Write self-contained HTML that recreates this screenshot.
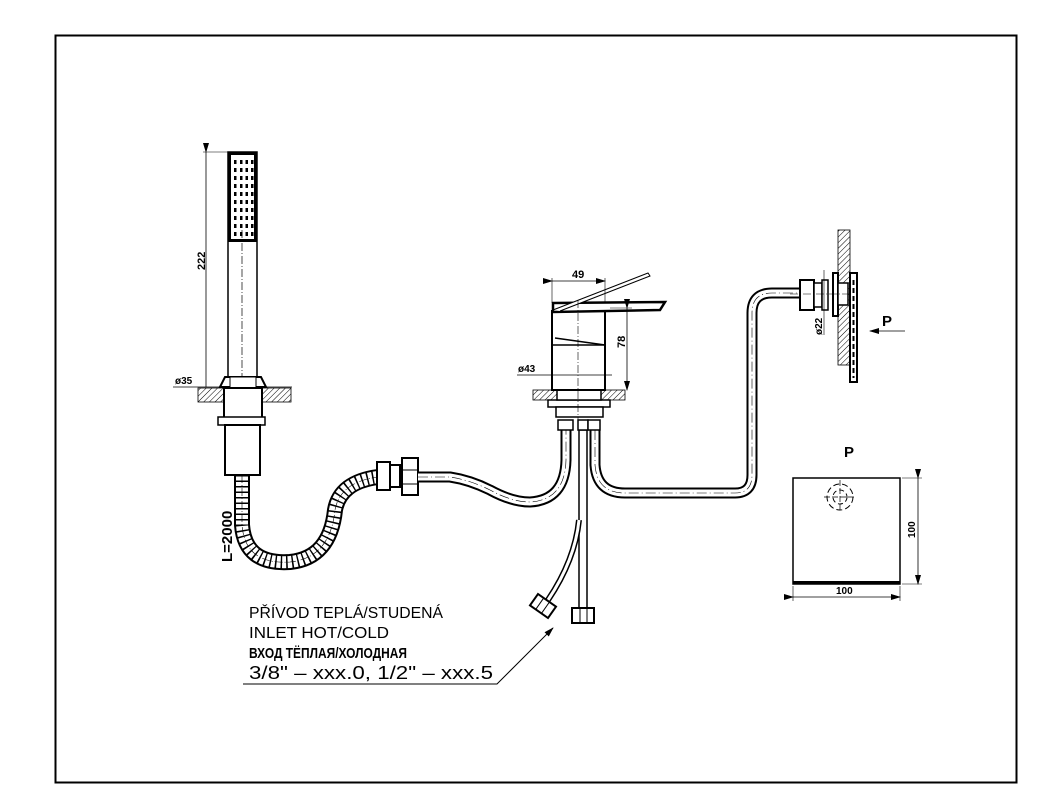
<!DOCTYPE html>
<html><head><meta charset="utf-8"><style>
html,body{margin:0;padding:0;background:#fff;}
svg{display:block;}
text{font-family:"Liberation Sans","DejaVu Sans",sans-serif;fill:#000;}
</style></head><body>
<svg width="1053" height="788" viewBox="0 0 1053 788" xmlns="http://www.w3.org/2000/svg">
<defs>
<pattern id="h" width="4" height="4" patternUnits="userSpaceOnUse" patternTransform="rotate(45)">
<line x1="0" y1="0" x2="0" y2="4" stroke="#000" stroke-width="1"/></pattern>
<marker id="a" markerWidth="10" markerHeight="6" refX="9" refY="3" orient="auto" markerUnits="userSpaceOnUse"><path d="M0,0 L10,3 L0,6 z" fill="#000"/></marker>
<g id="row" fill="#000"><rect x="234" y="0" width="2.5" height="4"/><rect x="240" y="0" width="2.5" height="4"/><rect x="245.5" y="0" width="2.5" height="4"/><rect x="251" y="0" width="2.5" height="4"/></g>
</defs>
<rect x="55.5" y="35.5" width="961" height="747" fill="none" stroke="#000" stroke-width="2"/>

<rect x="228" y="152" width="29" height="225" fill="#fff" stroke="#000" stroke-width="1.5"/>
<rect x="229.5" y="153.5" width="26" height="87" fill="none" stroke="#000" stroke-width="3"/>
<use href="#row" y="160"/><use href="#row" y="168"/><use href="#row" y="176"/><use href="#row" y="184"/><use href="#row" y="192"/><use href="#row" y="200"/><use href="#row" y="208"/><use href="#row" y="216"/><use href="#row" y="224"/><use href="#row" y="232"/>
<line x1="242" y1="230" x2="242" y2="480" stroke="#000" stroke-width="0.7" stroke-dasharray="8,2,1,2"/>
<line x1="206" y1="152" x2="206" y2="387" stroke="#000" stroke-width="0.8" marker-start="url(#a)"/>
<line x1="203" y1="152" x2="228" y2="152" stroke="#000" stroke-width="0.6"/>
<text font-size="11" font-weight="bold" transform="translate(205,270) rotate(-90)">222</text>
<text x="175" y="384" font-size="10" font-weight="bold">ø35</text>
<line x1="173" y1="387" x2="292" y2="387" stroke="#000" stroke-width="0.8"/>
<rect x="198" y="388" width="93" height="14" fill="url(#h)" stroke="#000" stroke-width="0.8"/>
<path d="M220,387 L225,377 L261,377 L266,387 Z" fill="#fff" stroke="#000" stroke-width="2"/>
<rect x="230" y="377" width="26" height="11" fill="#fff" stroke="#000" stroke-width="1"/>
<rect x="224" y="388" width="38" height="30" fill="#fff" stroke="#000" stroke-width="2"/>
<rect x="218" y="417" width="47" height="8" fill="#fff" stroke="#000" stroke-width="1.5"/>
<rect x="225" y="425" width="35" height="50" fill="#fff" stroke="#000" stroke-width="2"/>

<path id="hose" d="M242,475 L242,525 Q245,565 290,562 Q330,558 335,510 Q340,482 378,477" fill="none"/>
<use href="#hose" stroke="#000" stroke-width="16"/>
<use href="#hose" stroke="#fff" stroke-width="12"/>
<use href="#hose" stroke="#000" stroke-width="14" stroke-dasharray="1.5,4"/>
<use href="#hose" stroke="#000" stroke-width="0.6" stroke-dasharray="8,2,1,2"/>
<text font-size="15" font-weight="bold" transform="translate(232,562) rotate(-90)">L=2000</text>
<rect x="377" y="462" width="13" height="28" fill="#fff" stroke="#000" stroke-width="2"/>
<rect x="390" y="465" width="10" height="22" fill="#fff" stroke="#000" stroke-width="2"/>
<rect x="402" y="458" width="16" height="37" fill="#fff" stroke="#000" stroke-width="2"/>
<line x1="403" y1="470" x2="417" y2="470" stroke="#000"/><line x1="403" y1="484" x2="417" y2="484" stroke="#000"/>

<g fill="none">
<path id="p1" d="M418,477 L450,477 Q470,480 490,490 Q512,502 530,502 Q565,500 566,460 L566,430"/>
<path id="p2" d="M595,430 L595,465 Q597,493 625,493 L735,493 Q752,493 752,475 L752,313 Q752,293 772,293 L801,293"/>
</g>
<g fill="none" stroke="#000" stroke-width="11"><use href="#p1"/><use href="#p2"/></g>
<g fill="none" stroke="#fff" stroke-width="7"><use href="#p1"/><use href="#p2"/></g>
<g fill="none" stroke="#000" stroke-width="0.6" stroke-dasharray="10,3,1,3"><use href="#p1"/><use href="#p2"/></g>
<rect x="579" y="430" width="8" height="180" fill="#fff" stroke="#000" stroke-width="1.5"/>
<rect x="572" y="608" width="22" height="15" fill="#fff" stroke="#000" stroke-width="2"/>
<line x1="580" y1="608" x2="580" y2="623" stroke="#000"/><line x1="587" y1="608" x2="587" y2="623" stroke="#000"/>
<path d="M579,520 Q575,560 548,600" fill="none" stroke="#000" stroke-width="6"/>
<path d="M579,520 Q575,560 548,600" fill="none" stroke="#fff" stroke-width="3"/>
<g transform="translate(543,606) rotate(35)"><rect x="-11" y="-7" width="22" height="14" fill="#fff" stroke="#000" stroke-width="2"/><line x1="-4" y1="-7" x2="-4" y2="7" stroke="#000"/><line x1="3" y1="-7" x2="3" y2="7" stroke="#000"/></g>
<rect x="558" y="420" width="15" height="10" fill="#fff" stroke="#000" stroke-width="1.5"/>
<rect x="578" y="420" width="10" height="10" fill="#fff" stroke="#000" stroke-width="1.5"/>
<rect x="588" y="420" width="12" height="10" fill="#fff" stroke="#000" stroke-width="1.5"/>

<rect x="533" y="390" width="92" height="10" fill="url(#h)" stroke="#000" stroke-width="0.8"/>
<rect x="548" y="400" width="62" height="7" fill="#fff" stroke="#000" stroke-width="1.5"/>
<rect x="556" y="407" width="47" height="10" fill="#fff" stroke="#000" stroke-width="1.5"/>
<rect x="557" y="390" width="44" height="10" fill="#fff" stroke="#000" stroke-width="1.5"/>
<path d="M552,310 L552,390 L605,390 L605,310" fill="#fff" stroke="#000" stroke-width="2"/>
<line x1="552" y1="345" x2="605" y2="345" stroke="#000" stroke-width="1.5"/>
<path d="M555,338 L605,345" stroke="#000" stroke-width="1.5"/>
<path d="M553,303 L665,302 L660,310 L553,312 Z" fill="#fff" stroke="#000" stroke-width="2.5"/>
<path d="M553,310 L648,273 L650,276 L560,311" fill="#fff" stroke="#000" stroke-width="1"/>
<line x1="578" y1="300" x2="578" y2="420" stroke="#000" stroke-width="0.6" stroke-dasharray="8,2,1,2"/>
<line x1="552" y1="281" x2="605" y2="281" stroke="#000" stroke-width="0.8" marker-start="url(#a)" marker-end="url(#a)"/>
<line x1="552" y1="278" x2="552" y2="303" stroke="#000" stroke-width="0.6"/><line x1="605" y1="278" x2="605" y2="303" stroke="#000" stroke-width="0.6"/>
<text x="572" y="278" font-size="11" font-weight="bold">49</text>
<line x1="627" y1="308" x2="627" y2="390" stroke="#000" stroke-width="0.8" marker-start="url(#a)" marker-end="url(#a)"/>
<line x1="610" y1="308" x2="632" y2="308" stroke="#000" stroke-width="0.6"/>
<text font-size="11" font-weight="bold" transform="translate(625,348) rotate(-90)">78</text>
<line x1="517" y1="375" x2="612" y2="375" stroke="#000" stroke-width="0.8"/>
<text x="518" y="372" font-size="10" font-weight="bold">ø43</text>

<rect x="838" y="230" width="12" height="135" fill="url(#h)" stroke="#000" stroke-width="0.8"/>
<rect x="850" y="273" width="7" height="109" fill="#fff" stroke="#000" stroke-width="2"/>
<line x1="853.5" y1="280" x2="853.5" y2="378" stroke="#000" stroke-width="2" stroke-dasharray="5,3"/>
<rect x="800" y="280" width="14" height="30" fill="#fff" stroke="#000" stroke-width="2"/>
<rect x="814" y="283" width="8" height="24" fill="#fff" stroke="#000" stroke-width="1.5"/>
<rect x="822" y="280" width="6" height="30" fill="#fff" stroke="#000" stroke-width="1.5"/>
<rect x="833" y="273" width="5" height="43" fill="#fff" stroke="#000" stroke-width="2"/>
<rect x="838" y="283" width="10" height="22" fill="#fff" stroke="#000" stroke-width="1.5"/>
<line x1="790" y1="294" x2="850" y2="294" stroke="#000" stroke-width="0.6" stroke-dasharray="8,2,1,2"/>
<line x1="824" y1="270" x2="824" y2="335" stroke="#000" stroke-width="0.6"/>
<text font-size="10" font-weight="bold" transform="translate(822,335) rotate(-90)">ø22</text>
<line x1="905" y1="331" x2="870" y2="331" stroke="#000" stroke-width="0.8" marker-end="url(#a)"/>
<text x="882" y="326" font-size="15" font-weight="bold">P</text>

<text x="844" y="457" font-size="15" font-weight="bold">P</text>
<rect x="793" y="478" width="107" height="106" fill="#fff" stroke="#000" stroke-width="1.5"/>
<rect x="793" y="581" width="107" height="3" fill="#000"/>
<circle cx="840" cy="497" r="13" fill="none" stroke="#000" stroke-width="1" stroke-dasharray="6,3"/>
<circle cx="840" cy="497" r="7" fill="none" stroke="#000" stroke-width="1" stroke-dasharray="5,3"/>
<line x1="840" y1="480" x2="840" y2="512" stroke="#000" stroke-width="0.7" stroke-dasharray="6,2"/>
<line x1="824" y1="497" x2="856" y2="497" stroke="#000" stroke-width="0.7" stroke-dasharray="6,2"/>
<line x1="918" y1="478" x2="918" y2="584" stroke="#000" stroke-width="0.8" marker-start="url(#a)" marker-end="url(#a)"/>
<line x1="902" y1="478" x2="922" y2="478" stroke="#000" stroke-width="0.6"/><line x1="902" y1="584" x2="922" y2="584" stroke="#000" stroke-width="0.6"/>
<text font-size="10" font-weight="bold" transform="translate(915,538) rotate(-90)">100</text>
<line x1="793" y1="597" x2="900" y2="597" stroke="#000" stroke-width="0.8" marker-start="url(#a)" marker-end="url(#a)"/>
<line x1="793" y1="586" x2="793" y2="601" stroke="#000" stroke-width="0.6"/><line x1="900" y1="586" x2="900" y2="601" stroke="#000" stroke-width="0.6"/>
<text x="836" y="594" font-size="10" font-weight="bold">100</text>

<g font-size="16">
<text x="249" y="618" textLength="194" lengthAdjust="spacingAndGlyphs">PŘÍVOD  TEPLÁ/STUDENÁ</text>
<text x="249" y="638" textLength="140" lengthAdjust="spacingAndGlyphs">INLET  HOT/COLD</text>
<text x="249" y="658" textLength="158" lengthAdjust="spacingAndGlyphs" font-weight="bold" font-size="15">ВХОД  ТЁПЛАЯ/ХОЛОДНАЯ</text>
<text x="249" y="679" textLength="244" lengthAdjust="spacingAndGlyphs" font-size="18">3/8"  –  xxx.0,  1/2"  –  xxx.5</text>
</g>
<polyline points="243,684 497,684 553,628" fill="none" stroke="#000" stroke-width="1" marker-end="url(#a)"/>
</svg>
</body></html>
